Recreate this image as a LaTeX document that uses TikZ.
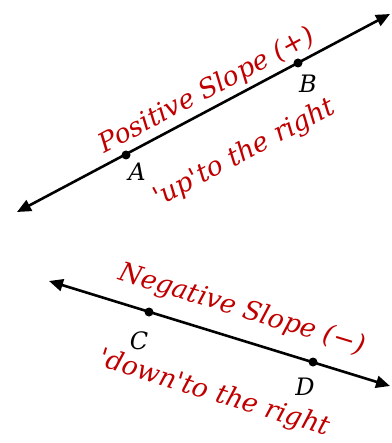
\documentclass[tikz,border=0pt]{standalone}
\usepackage{fontspec}
\setmainfont{DejaVu Serif}
\usetikzlibrary{arrows.meta}
\definecolor{slopered}{RGB}{192,0,0}
\tikzset{
  axisline/.style={line width=2.6pt, {Triangle[length=14pt,width=12pt]}-{Triangle[length=14pt,width=12pt]}},
  ptdot/.style={fill=black, circle, inner sep=0pt, minimum size=9pt},
  ptlabel/.style={font=\itshape\fontsize{24}{26}\selectfont, inner sep=0pt},
  redtext/.style={font=\itshape\fontsize{26.5}{29}\selectfont, text=slopered, inner sep=0pt}
}
\begin{document}
\begin{tikzpicture}[x=1pt,y=1pt]
\useasboundingbox (0,0) rectangle (391,-443);
% positive line
\coordinate (P1) at (17,-212);
\coordinate (P2) at (390,-14);
\node[ptdot] (A) at (126,-155) {};
\node[ptdot] (B) at (298,-63) {};
\draw[axisline] (P1) -- (P2);
\node[ptlabel] (lA) at (137,-172) {A};
\node[ptlabel] (lB) at (308,-84) {B};
\node[redtext, rotate=28] (pos) at (207,-91) {Positive Slope (+)};
\node[redtext, rotate=28] (up) at (245,-153) {\textquotesingle up\textquotesingle to the right};
% negative line
\coordinate (N1) at (49,-281);
\coordinate (N2) at (390,-386);
\node[ptdot] (C) at (149,-312) {};
\node[ptdot] (D) at (313,-362) {};
\draw[axisline] (N1) -- (N2);
\node[ptlabel] (lC) at (139,-341) {C};
\node[ptlabel] (lD) at (305,-387) {D};
\node[redtext, rotate=-17] (neg) at (242,-310) {Negative Slope (−)};
\node[redtext, rotate=-17] (down) at (214,-394) {\textquotesingle down\textquotesingle to the right};
\end{tikzpicture}
\end{document}
